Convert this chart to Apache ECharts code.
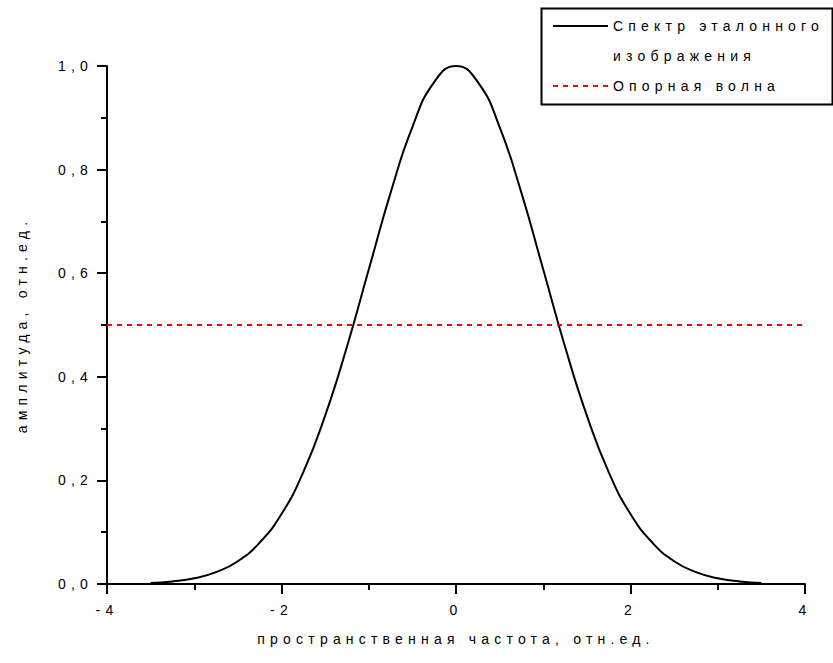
<!DOCTYPE html>
<html>
<head>
<meta charset="utf-8">
<script src="https://cdn.jsdelivr.net/npm/echarts@6/dist/echarts.min.js"></script>
<style>
  html, body { margin: 0; padding: 0; background: #fff; }
  #chart { width: 833px; height: 663px; }
  /* wide, evenly spaced lettering for all chart texts */
  #chart text { letter-spacing: 5.2px; }
</style>
</head>
<body>
<div id="chart"></div>
<script>
// spatial frequency, rel. units
const frequency = [-3.5, -3.25, -3.0, -2.75, -2.5, -2.25, -2.0, -1.75, -1.5, -1.25, -1.0, -0.75, -0.5, -0.25,
  0, 0.25, 0.5, 0.75, 1.0, 1.25, 1.5, 1.75, 2.0, 2.25, 2.5, 2.75, 3.0, 3.25, 3.5];
// amplitude of the reference image spectrum
const spectrum = [0.002, 0.005, 0.011, 0.023, 0.044, 0.080, 0.135, 0.216, 0.325, 0.458, 0.607, 0.755, 0.882, 0.969,
  1.000, 0.969, 0.882, 0.755, 0.607, 0.458, 0.325, 0.216, 0.135, 0.080, 0.044, 0.023, 0.011, 0.005, 0.002];
// reference wave level across the whole axis
const waveFrequency = [-4, 4];
const waveLevel = [0.5, 0.5];

const seriesNames = ['Спектр эталонного\nизображения', 'Опорная волна'];
const xTitle = 'пространственная частота, отн.ед.';
const yTitle = 'амплитуда, отн.ед.';

const FONT = '"Liberation Sans", Arial, sans-serif';
const zip = (xs, ys) => xs.map((x, i) => [x, ys[i]]);

const chart = echarts.init(document.getElementById('chart'), null, { renderer: 'svg' });

const axisCommon = {
  axisLine: { show: true, onZero: false, lineStyle: { color: '#000', width: 2 } },
  axisTick: { show: true, inside: false, length: 10, lineStyle: { color: '#000', width: 2 } },
  minorTick: { show: true, splitNumber: 2, length: 6, lineStyle: { color: '#000', width: 2 } },
  splitLine: { show: false },
  nameLocation: 'middle',
  nameTextStyle: { color: '#000', fontSize: 14, fontFamily: FONT }
};

chart.setOption({
  animation: false,
  backgroundColor: '#fff',
  grid: { left: 107, right: 28, top: 66, bottom: 79 },
  xAxis: Object.assign({}, axisCommon, {
    type: 'value', min: -4, max: 4, interval: 2,
    name: xTitle, nameGap: 48,
    axisLabel: { color: '#000', fontSize: 14, fontFamily: FONT, margin: 19, formatter: v => String(v) }
  }),
  yAxis: Object.assign({}, axisCommon, {
    type: 'value', min: 0, max: 1, interval: 0.2,
    name: yTitle, nameGap: 78,
    axisLabel: { color: '#000', fontSize: 14, fontFamily: FONT, margin: 14,
      formatter: v => v.toFixed(1).replace('.', ',') }
  }),
  legend: {
    orient: 'vertical', left: 552, top: -19, padding: 0, itemGap: 0,
    itemWidth: 55, itemHeight: 14,
    itemStyle: { opacity: 0 },
    textStyle: { color: '#000', fontSize: 14, fontFamily: FONT, lineHeight: 30 },
    // the two-line entry keeps its first line level with the sample line
    formatter: name => (name === seriesNames[0] ? '\n' + name : name),
    data: seriesNames
  },
  graphic: [{
    type: 'rect', left: 539, top: 6, z: 100,
    shape: { width: 291, height: 96 },
    style: { fill: 'none', stroke: '#000', lineWidth: 2 }
  }],
  series: [
    {
      name: seriesNames[0], type: 'line', data: zip(frequency, spectrum),
      smooth: true, symbol: 'none',
      lineStyle: { color: '#000', width: 2 }, itemStyle: { color: '#000' }
    },
    {
      name: seriesNames[1], type: 'line', data: zip(waveFrequency, waveLevel),
      symbol: 'none',
      lineStyle: { color: '#ff0000', width: 2, type: [5, 5] }, itemStyle: { color: '#ff0000' }
    }
  ]
});
</script>
</body>
</html>
